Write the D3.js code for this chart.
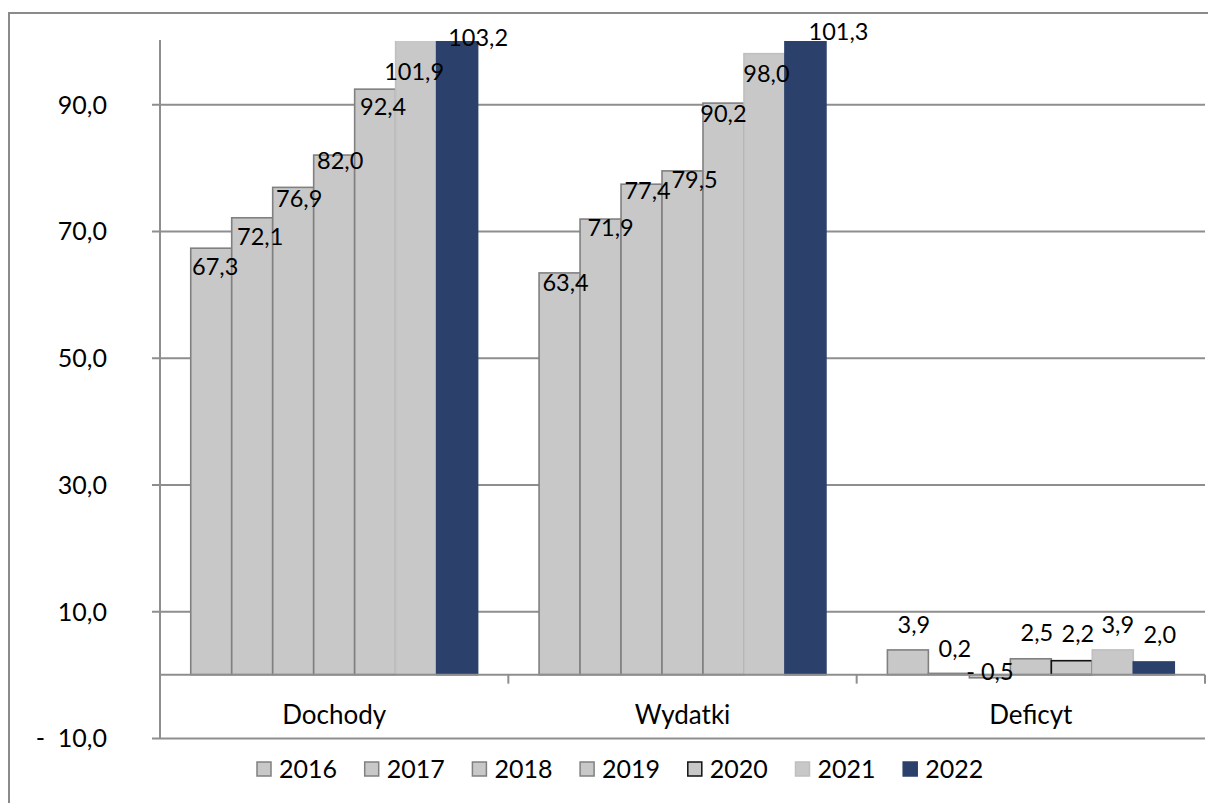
<!DOCTYPE html>
<html>
<head>
<meta charset="utf-8">
<script src="https://cdn.jsdelivr.net/npm/d3@7"></script>
<style>
  html, body { margin: 0; padding: 0; background: #fff; }
  svg { display: block; }
  text { font-family: Lato, "Open Sans", sans-serif; fill: #000; }
</style>
</head>
<body>
<svg id="chart" width="1208" height="803"></svg>
<script>
// ---- data ----
const categories = ["Dochody", "Wydatki", "Deficyt"];
const years = ["2016", "2017", "2018", "2019", "2020", "2021", "2022"];
const s2016 = [67.3, 63.4, 3.9];
const s2017 = [72.1, 71.9, 0.2];
const s2018 = [76.9, 77.4, -0.5];
const s2019 = [82.0, 79.5, 2.5];
const s2020 = [92.4, 90.2, 2.2];
const s2021 = [101.9, 98.0, 3.9];
const s2022 = [103.2, 101.3, 2.0];
const yTicks = [-10, 10, 30, 50, 70, 90];

const seriesValues = [s2016, s2017, s2018, s2019, s2020, s2021, s2022];

// ---- styles ----
const fills   = ["#c8c8c8", "#c8c8c8", "#c8c8c8", "#c8c8c8", "#c8c8c8", "#c8c8c8", "#2b416b"];
const strokes = ["#808080", "#808080", "#808080", "#808080", "#808080", "#bfbfbf", "#2b416b"];
const strokeDeficyt2020 = "#111";
const legendStrokes = ["#808080", "#808080", "#808080", "#808080", "#111", "#bfbfbf", "#2b416b"];
// label nudges [dx, dy] relative to bar centre / visible bar top, per category then series
const labelNudge = [
  [[4, 19], [8, 19], [6, 11], [6, 6], [8, 18], [-2, 31], [21, -3]],
  [[6, 10], [10, 9], [6, 7], [12, 9], [0, 11], [2, 20], [33, -9]],
  [[6, -25], [6, -25], [0, -3], [6, -26], [6, -27], [5, -25], [6, -27]]
];

const svg = d3.select("#chart");
const pLeft = 160, pRight = 1205, pTop = 41, pBottom = 738;

const y = d3.scaleLinear().domain([-10, 100]).range([pBottom, pTop]);
const x0 = d3.scaleBand().domain(categories).range([pLeft, pRight]).paddingInner(0).paddingOuter(0);
const groupW = x0.bandwidth() * 7 / 8.5;
const x1 = d3.scaleBand().domain(years)
  .range([(x0.bandwidth() - groupW) / 2, (x0.bandwidth() + groupW) / 2]);

// outer frame
svg.append("rect").attr("x", 9).attr("y", 13).attr("width", 1230).attr("height", 830)
  .attr("fill", "none").attr("stroke", "#8a8a8a").attr("stroke-width", 2);

// gridlines + tick marks
const yAxis = d3.axisLeft(y).tickValues(yTicks).tickSize(0).tickPadding(0)
  .tickFormat(d => (d < 0 ? "-  " : "") + d3.format(".1f")(Math.abs(d)).replace(".", ","));
const gy = svg.append("g").attr("transform", `translate(${pLeft},0)`).call(yAxis);
gy.select(".domain").remove();
gy.selectAll(".tick line").attr("x1", -8).attr("x2", pRight - pLeft)
  .attr("stroke", "#8e8e8e").attr("stroke-width", 2);
gy.selectAll(".tick text").attr("x", -53).attr("dy", "0.35em")
  .style("font-size", "25px").style("font-family", "Lato, sans-serif")
  .style("white-space", "pre").attr("fill", "#000");

// y axis line
svg.append("line").attr("x1", pLeft).attr("x2", pLeft).attr("y1", pTop - 1).attr("y2", pBottom)
  .attr("stroke", "#8e8e8e").attr("stroke-width", 2);

// bars
svg.append("clipPath").attr("id", "plotclip").append("rect")
  .attr("x", pLeft).attr("y", y(100)).attr("width", pRight - pLeft).attr("height", pBottom - y(100));

const barData = [];
categories.forEach((c, ci) => {
  years.forEach((yr, si) => {
    barData.push({ c, ci, yr, si, v: seriesValues[si][ci] });
  });
});

const gBars = svg.append("g").attr("clip-path", "url(#plotclip)");
gBars.selectAll("rect").data(barData).join("rect")
  .attr("x", d => x0(d.c) + x1(d.yr))
  .attr("width", x1.bandwidth())
  .attr("y", d => Math.min(y(d.v), y(0)))
  .attr("height", d => Math.abs(y(d.v) - y(0)))
  .attr("fill", d => fills[d.si])
  .attr("stroke", d => (d.ci === 2 && d.si === 4) ? strokeDeficyt2020 : strokes[d.si])
  .attr("stroke-width", 1.6);

// category axis at zero
svg.append("line").attr("x1", pLeft).attr("x2", pRight).attr("y1", y(0)).attr("y2", y(0))
  .attr("stroke", "#8e8e8e").attr("stroke-width", 2);
const catTicks = [pLeft].concat(categories.map(c => x0(c) + x0.bandwidth()));
svg.selectAll(".cattick").data(catTicks).join("line")
  .attr("x1", d => d).attr("x2", d => d).attr("y1", y(0)).attr("y2", y(0) + 9)
  .attr("stroke", "#8e8e8e").attr("stroke-width", 2);

svg.selectAll(".catlabel").data(categories).join("text")
  .attr("x", d => x0(d) + x0.bandwidth() / 2)
  .attr("y", 715).attr("dy", "0.35em")
  .attr("text-anchor", "middle").style("font-size", "26px")
  .text(d => d);

// data labels
const fmt = v => (v < 0 ? "- " : "") + d3.format(".1f")(Math.abs(v)).replace(".", ",");
svg.selectAll(".dlabel").data(barData).join("text")
  .attr("x", d => x0(d.c) + x1(d.yr) + x1.bandwidth() / 2 + labelNudge[d.ci][d.si][0])
  .attr("y", d => Math.max(Math.min(y(d.v), y(0)), y(100)) + labelNudge[d.ci][d.si][1])
  .attr("dy", "0.35em").attr("text-anchor", "middle")
  .style("font-size", "23.5px")
  .text(d => fmt(d.v));

// legend
const legStart = 257, legStep = 107.7, legY = 769;
const leg = svg.selectAll(".leg").data(years).join("g")
  .attr("transform", (d, i) => `translate(${legStart + i * legStep},${legY})`);
leg.append("rect").attr("x", 0).attr("y", -7).attr("width", 14).attr("height", 14)
  .attr("fill", (d, i) => fills[i]).attr("stroke", (d, i) => legendStrokes[i]).attr("stroke-width", 1.5);
leg.append("text").attr("x", 22).attr("dy", "0.35em").style("font-size", "25px").text(d => d);
</script>
</body>
</html>
